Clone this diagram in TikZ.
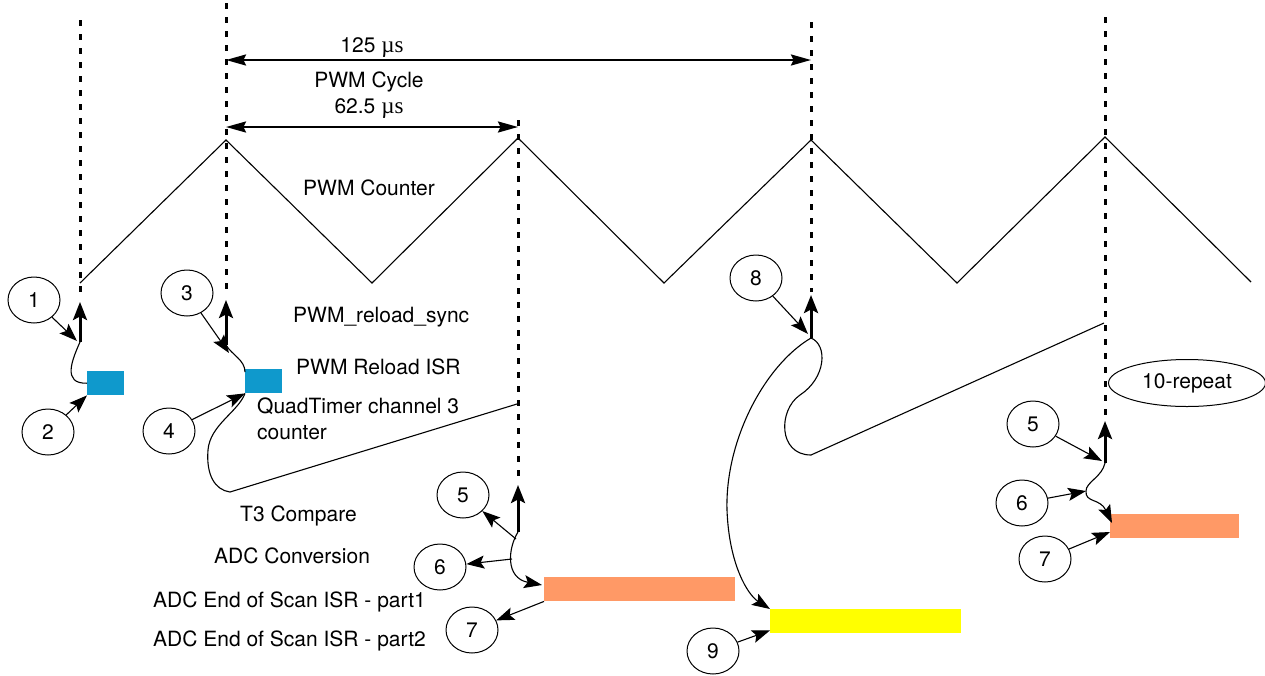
\documentclass[tikz,border=0pt]{standalone}
\usepackage{fontspec}
\setmainfont{TeX Gyre Heros}
\newfontfamily\unitfont{Liberation Serif}
\usetikzlibrary{shapes.geometric,arrows.meta}

\definecolor{isrblue}{HTML}{0F99CC}
\definecolor{adcorange}{HTML}{FF9966}
\definecolor{partyellow}{HTML}{FFFF00}

\begin{document}
\begin{tikzpicture}[x=1pt,y=-1pt,
  every node/.style={font=\fontsize{21}{25}\selectfont},
  lbl/.style={inner sep=0pt, anchor=base west},
  lblc/.style={inner sep=0pt, anchor=base},
  num/.style={ellipse, draw, line width=1pt, minimum width=52pt,
              minimum height=46pt, inner sep=0pt},
  marker/.style={line width=3pt, dash pattern=on 6pt off 8pt},
  event/.style={line width=3pt, -{Stealth[length=18pt,width=14pt,inset=3.5pt]}},
  wave/.style={line width=1.1pt, line join=miter},
  callout/.style={line width=1.1pt, -{Stealth[length=18pt,width=13pt,inset=3.5pt]}},
  span/.style={line width=2.2pt,
    {Stealth[length=20pt,width=11pt,inset=2.5pt]}-{Stealth[length=20pt,width=11pt,inset=2.5pt]}},
  bar/.style={inner sep=0pt, anchor=north west, draw=none}
]
\useasboundingbox (0,0) rectangle (1265,675);

% ---- PWM counter (triangle wave)
\draw[wave] (80,283) -- (226,140) -- (372,283) -- (518,138) -- (664,283)
  -- (811,140) -- (957,283) -- (1105,137) -- (1251,282);

% ---- dotted event markers
\draw[marker] (80,20) -- (80,293);
\draw[marker] (226,3) -- (226,295);
\draw[marker] (518,120) -- (518,478);
\draw[marker] (811,22) -- (811,292);
\draw[marker] (1105,17) -- (1105,416);

% ---- event arrows
\coordinate (e1b) at (80,342);   \coordinate (e1t) at (80,302);
\coordinate (e2b) at (226,345);  \coordinate (e2t) at (226,300);
\coordinate (e3b) at (518,532);  \coordinate (e3t) at (518,485);
\coordinate (e4b) at (811,338);  \coordinate (e4t) at (811,295);
\coordinate (e5b) at (1105,463); \coordinate (e5t) at (1105,421);
\draw[event] (e1b) -- (e1t);
\draw[event] (e2b) -- (e2t);
\draw[event] (e3b) -- (e3t);
\draw[event] (e4b) -- (e4t);
\draw[event] (e5b) -- (e5t);

% ---- period dimensions
\coordinate (d1a) at (226,60);  \coordinate (d1b) at (811,60);
\coordinate (d2a) at (226,127); \coordinate (d2b) at (518,127);
\draw[span] (d1a) -- (d1b);
\draw[span] (d2a) -- (d2b);
\node[lblc] (t125) at (372,52) {125 {\unitfont\fontsize{23}{25}\selectfont µs}};
\node[lblc] (tcyc) at (369,87) {PWM Cycle};
\node[lblc] (t625) at (369,113) {62.5 {\unitfont\fontsize{23}{25}\selectfont µs}};
\node[lblc] (tcnt) at (369,195) {PWM Counter};

% ---- legend texts
\node[lbl] (tsync) at (293,322) {PWM\_reload\_sync};
\node[lbl] (treload) at (296,374) {PWM Reload ISR};
\node[lbl] (tqt1) at (257,413) {QuadTimer channel 3};
\node[lbl] (tqt2) at (257,439) {counter};
\node[lbl] (tcmp) at (240,521) {T3 Compare};
\node[lbl] (tadc) at (214,563) {ADC Conversion};
\node[lbl] (teos1) at (153,607) {ADC End of Scan ISR - part1};
\node[lbl] (teos2) at (153,646) {ADC End of Scan ISR - part2};

% ---- activity bars
\node[bar, fill=isrblue, minimum width=37pt, minimum height=24pt] (isr1) at (87,371) {};
\node[bar, fill=isrblue, minimum width=37pt, minimum height=24pt] (isr2) at (245,369) {};
\node[bar, fill=adcorange, minimum width=191pt, minimum height=24pt] (eosa) at (544,577) {};
\node[bar, fill=adcorange, minimum width=129pt, minimum height=24pt] (eosb) at (1110,514) {};
\node[bar, fill=partyellow, minimum width=191pt, minimum height=24pt] (eosc) at (770,609) {};

% ---- numbered tags
\node[num] (c1) at (34,300) {1};
\node[num] (c2) at (48,432) {2};
\node[num] (c3) at (187,293) {3};
\node[num] (c4) at (169,431) {4};
\node[num] (c5) at (463,495) {5};
\node[num] (c6) at (440,567) {6};
\node[num] (c7) at (472,630) {7};
\node[num] (c8) at (756,278) {8};
\node[num] (c9) at (713,651) {9};
\node[num] (c5r) at (1033,424) {5};
\node[num] (c6r) at (1022,503) {6};
\node[num] (c7r) at (1045,559) {7};
\node[ellipse, draw, line width=1pt, minimum width=157pt, minimum height=47pt,
      inner sep=0pt] (rep) at (1187,383) {10-repeat};

% ---- first reload: sync -> ISR
\coordinate (h1) at (77,341);
\draw[callout] (c1) -- (h1);
\draw[callout] (c2) -- (isr1.south west);
\draw[wave] (e1b) .. controls (72,360) and (62,384) .. (isr1.west);

% ---- second reload: sync -> ISR -> timer ramp
\coordinate (h3) at (229,353);
\coordinate (q3) at (230,492);
\coordinate (q3r) at (517,404);
\draw[callout] (c3) -- (h3);
\draw[callout] (c4) -- (isr2.south west);
\draw[wave] (e2b) .. controls (232,355) and (245,360) .. ([yshift=-3pt]isr2.north west);
\draw[wave] (isr2.south west) .. controls (238,412) and (210,425) .. (208,450)
  .. controls (206,475) and (215,490) .. (q3) -- (q3r);

% ---- compare -> conversion -> end of scan
\coordinate (p5) at (516,539);
\coordinate (p6) at (512,559);
\coordinate (f7) at (542,585);
\draw[callout] (e3b) .. controls (508,548) and (505,578) .. (f7);
\draw[callout] (p5) -- (c5);
\draw[callout] (p6) -- (c6);
\draw[callout] (eosa.south west) -- (c7);

% ---- third sync: ramp restart and part2 of the scan ISR
\coordinate (h8) at (808,334);
\coordinate (q8) at (811,455);
\coordinate (q8r) at (1104,323);
\draw[callout] (c8) -- (h8);
\draw[wave] (e4b) .. controls (828,345) and (826,378) .. (800,395)
  .. controls (778,410) and (778,455) .. (q8) -- (q8r);
\draw[callout] (e4b) .. controls (765,365) and (725,440) .. (727,510)
  .. controls (729,565) and (748,595) .. (eosc.north west);
\draw[callout] (c9) -- ([yshift=3pt]eosc.south west);

% ---- repeated compare sequence
\coordinate (h5r) at (1102,461);
\coordinate (g6) at (1086,491);
\coordinate (h7r) at (1110,532);
\coordinate (f7r) at (1112,523);
\draw[callout] (e5b) .. controls (1102,477) and (1086,482) .. (g6)
  .. controls (1085,503) and (1100,498) .. (f7r);
\draw[callout] (c5r) -- (h5r);
\draw[callout] (c6r) -- (g6);
\draw[callout] (c7r) -- (h7r);
\end{tikzpicture}
\end{document}
